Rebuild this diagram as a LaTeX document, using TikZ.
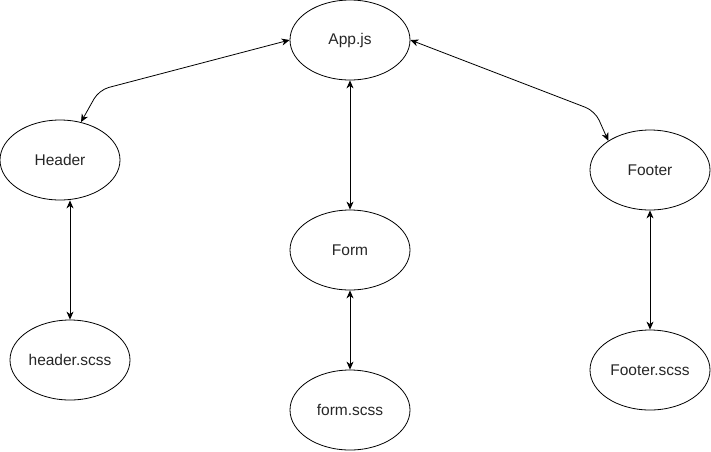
\documentclass[tikz,border=0pt]{standalone}
\usepackage{fontspec}
\setmainfont{Liberation Sans}
\usetikzlibrary{arrows.meta,shapes.geometric}
\begin{document}
\begin{tikzpicture}[x=1pt,y=-1pt,
  oval/.style={draw, ellipse, line width=0.8pt, minimum width=120pt, minimum height=80pt, inner sep=0pt, font=\fontsize{15.5pt}{18pt}\selectfont, text=black!85},
  link/.style={line width=0.8pt, {Stealth[length=8pt,width=7pt,inset=2.5pt]}-{Stealth[length=8pt,width=7pt,inset=2.5pt]}, rounded corners=10pt}]
\useasboundingbox (0,0) rectangle (711,451);
\node[oval] (app) at (350,40) {App.js};
\node[oval] (header) at (60,160) {Header};
\node[oval] (footer) at (650,170) {Footer};
\node[oval] (form) at (350,250) {Form};
\node[oval] (hscss) at (70,360) {header.scss};
\node[oval] (fscss) at (350,410) {form.scss};
\node[oval] (ftscss) at (650,370) {Footer.scss};
\coordinate (c1) at (99,90);
\coordinate (c2) at (595,111);
\draw[link] (app.west) -- (c1) -- (header.61);
\draw[link] (app.east) -- (c2) -- (footer.145);
\draw[link] (app.south) -- (form.north);
\draw[link] (form.south) -- (fscss.north);
\draw[link] (hscss.north |- header.south) -- (hscss.north);
\draw[link] (footer.south) -- (ftscss.north);
\end{tikzpicture}
\end{document}
